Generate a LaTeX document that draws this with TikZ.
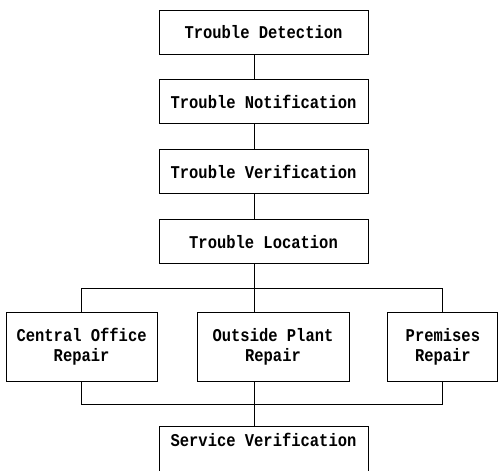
\documentclass[tikz,border=0pt]{standalone}
\usepackage{fontspec}
\usepackage{tikz}
\usetikzlibrary{positioning,calc}
\newfontfamily\boxfont[FakeStretch=0.86]{Liberation Mono}

\begin{document}
\begin{tikzpicture}[
    node distance=25pt,
    box/.style={rectangle, draw, line width=0.9pt, minimum width=209pt, minimum height=44pt, align=center,
        font=\boxfont\bfseries\fontsize{18pt}{20pt}\selectfont},
    repair/.style={box, minimum height=69pt},
    link/.style={line width=0.9pt}
]
\useasboundingbox (0,0) rectangle (498pt,471pt);
\coordinate (spine) at (254pt,0);

\node[box] (detect) at (263.5pt,439pt) {Trouble Detection};
\node[box, below=of detect] (notify) {Trouble Notification};
\node[box, below=of notify] (verify) {Trouble Verification};
\node[box, below=of verify] (locate) {Trouble Location};
\node[repair, minimum width=152pt, below=48pt of locate, xshift=9.5pt] (outside) {Outside Plant\\Repair};
\node[repair, minimum width=151pt, left=39pt of outside] (central) {Central Office\\Repair};
\node[repair, minimum width=110pt, right=38pt of outside] (premises) {Premises\\Repair};
\node[box, text height=17pt, text depth=26pt, below=44pt of outside, xshift=-9.5pt] (service) {Service Verification};

\coordinate (topbus) at ($(locate.south)!0.5!(outside.north)$);
\coordinate (botbus) at ($(outside.south)!0.5!(service.north)$);

\draw[link] (detect.south -| spine) -- (notify.north -| spine);
\draw[link] (notify.south -| spine) -- (verify.north -| spine);
\draw[link] (verify.south -| spine) -- (locate.north -| spine);
\draw[link] (locate.south -| spine) -- (outside.north -| spine);
\draw[link] (central.north) |- (topbus) -| (premises.north);
\draw[link] (central.south) |- (botbus) -| (premises.south);
\draw[link] (outside.south -| spine) -- (service.north -| spine);
\end{tikzpicture}
\end{document}
